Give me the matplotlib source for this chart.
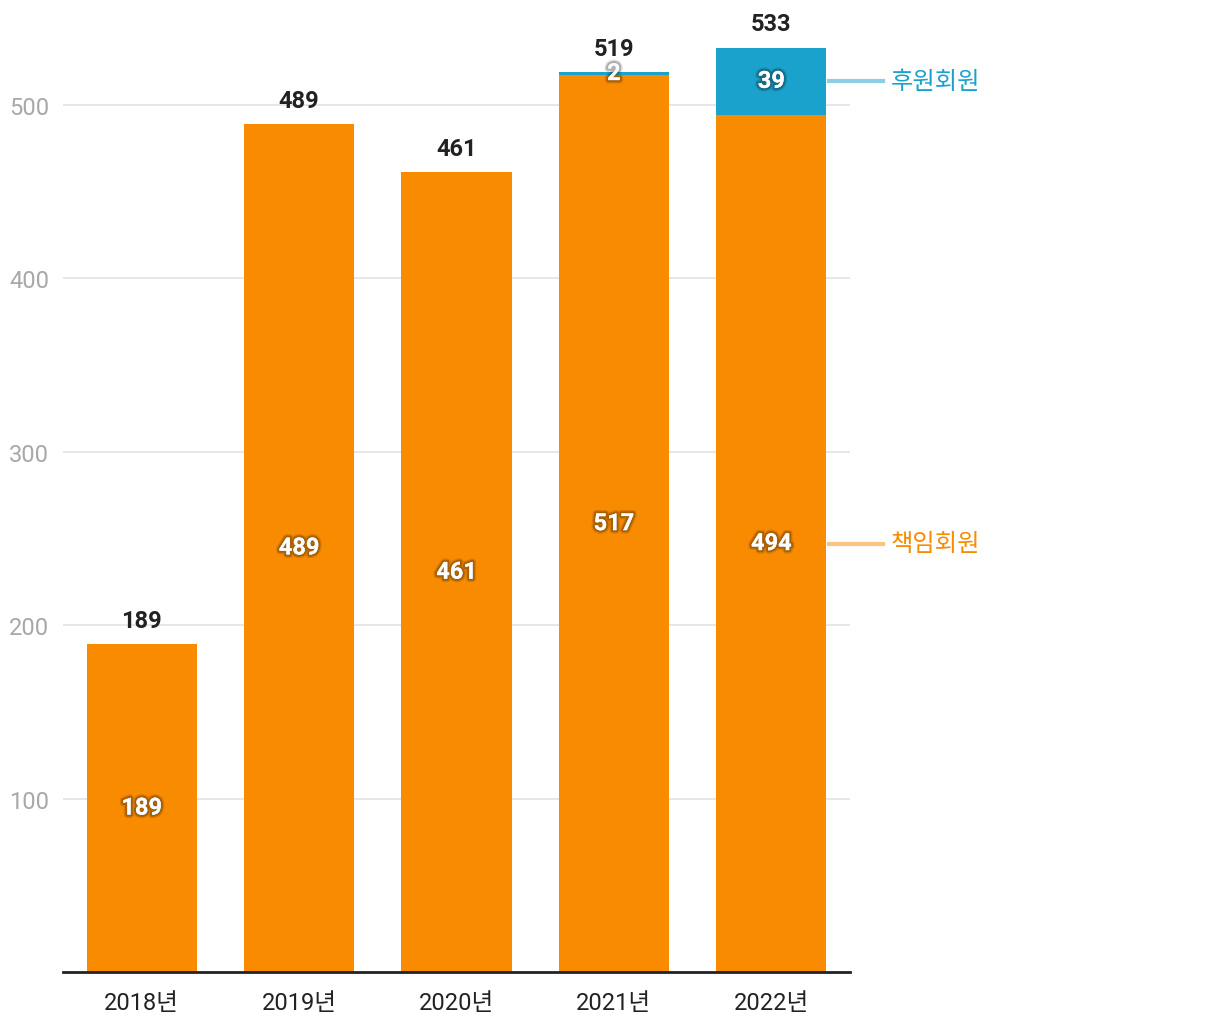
import matplotlib
matplotlib.use("Agg")
import matplotlib.pyplot as plt
import matplotlib.patheffects as pe
import numpy as np

plt.rcParams['font.family'] = ['Roboto', 'Noto Sans CJK KR', 'DejaVu Sans']

# 데이터
years = ['2018년', '2019년', '2020년', '2021년', '2022년']
chaekim = [189, 489, 461, 517, 494]   # 책임회원
huwon = [0, 0, 0, 2, 39]              # 후원회원
series_names = ['책임회원', '후원회원']

orange = '#F98B00'
blue = '#1AA2CC'

fig = plt.figure(figsize=(12.2, 10.2), dpi=100)
ax = fig.add_axes([63/1220, 47/1020, (850-63)/1220, 973/1020])

x = np.arange(len(years))
w = 0.70
ax.bar(x, chaekim, width=w, color=orange, zorder=2)
ax.bar(x, huwon, width=w, bottom=chaekim, color=blue, zorder=2)

ax.set_xlim(-0.5, 4.5)
ax.set_ylim(0, 561)

# 격자와 축
ax.set_yticks([100, 200, 300, 400, 500])
ax.grid(axis='y', color='#e3e3e3', lw=1.2, zorder=0)
for s in ['top', 'right', 'left']:
    ax.spines[s].set_visible(False)
ax.spines['bottom'].set_color('#222222')
ax.spines['bottom'].set_linewidth(2)
ax.tick_params(axis='y', length=0, pad=10, labelsize=17, labelcolor='#a8a8a8')
ax.tick_params(axis='x', length=0, pad=14, labelsize=17, labelcolor='#222222')
ax.set_xticks(x)
ax.set_xticklabels(years)

# 흰 숫자 뒤 그림자
shadow = [pe.withStroke(linewidth=5, foreground=(0, 0, 0, 0.12)),
          pe.withStroke(linewidth=3, foreground=(0, 0, 0, 0.22))]

# 막대 안 숫자
for i in range(len(years)):
    ax.text(x[i], chaekim[i] / 2, str(chaekim[i]), ha='center', va='center',
            color='white', fontsize=17, fontweight='bold', path_effects=shadow, zorder=4)
    if huwon[i] > 0:
        ax.text(x[i], chaekim[i] + huwon[i] / 2, str(huwon[i]), ha='center', va='center',
                color='white', fontsize=17, fontweight='bold', path_effects=shadow, zorder=4)
    total = chaekim[i] + huwon[i]
    ax.annotate(str(total), (x[i], total), xytext=(0, 17), textcoords='offset points',
                ha='center', va='center', fontsize=17, fontweight='bold', color='#222222')

# 오른쪽 범례
last = len(years) - 1
ys = [chaekim[last] / 2, chaekim[last] + huwon[last] / 2]
cols = [orange, blue]
for name, yv, c in zip(series_names, ys, cols):
    ax.plot([4.365, 4.707], [yv, yv], color=c, alpha=0.5, lw=3, clip_on=False)
    ax.text(4.758, yv, name, ha='left', va='center', color=c, fontsize=17.5, clip_on=False)

fig.savefig('out.png', dpi=100)
